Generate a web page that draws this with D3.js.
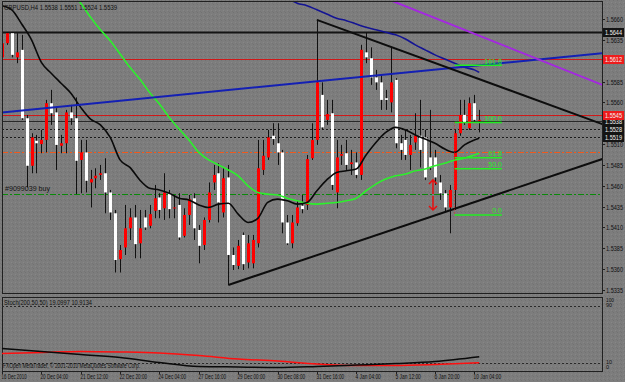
<!DOCTYPE html>
<html>
<head>
<meta charset="utf-8">
<script src="https://cdn.jsdelivr.net/npm/d3@7"></script>
<style>
  body { margin: 0; background: #7d7d7d; }
  svg text { font-family: "Liberation Sans", Arial, sans-serif; }
</style>
</head>
<body>
<svg id="chart" width="625" height="382"></svg>
<script>
// GBPUSD H4 bars, [open, high, low, close]
var candles = [
  [1.5614,1.5635,1.5599,1.5631],[1.5631,1.5644,1.5629,1.5643],[1.5643,1.5644,1.5614,1.5617],[1.5614,1.5643,1.5607,1.5620],
  [1.5623,1.5641,1.5539,1.5541],[1.5541,1.5545,1.5458,1.5484],[1.5484,1.5523,1.5475,1.5518],[1.5514,1.5521,1.5475,1.5511],
  [1.5510,1.5527,1.5499,1.5515],[1.5515,1.5563,1.5500,1.5559],[1.5559,1.5575,1.5533,1.5547],[1.5548,1.5553,1.5479,1.5509],
  [1.5508,1.5521,1.5499,1.5511],[1.5511,1.5551,1.5499,1.5548],[1.5548,1.5557,1.5533,1.5541],[1.5541,1.5566,1.5450,1.5490],
  [1.5491,1.5515,1.5451,1.5500],[1.5500,1.5515,1.5452,1.5466],[1.5464,1.5479,1.5434,1.5468],[1.5469,1.5481,1.5457,1.5472],
  [1.5473,1.5485,1.5467,1.5475],[1.5475,1.5493,1.5427,1.5452],[1.5452,1.5455,1.5419,1.5428],[1.5427,1.5431,1.5356,1.5371],
  [1.5372,1.5389,1.5356,1.5383],[1.5386,1.5437,1.5377,1.5409],[1.5409,1.5433,1.5395,1.5422],[1.5422,1.5437,1.5373,1.5390],
  [1.5391,1.5431,1.5373,1.5409],[1.5422,1.5431,1.5407,1.5410],[1.5412,1.5437,1.5409,1.5426],[1.5430,1.5461,1.5421,1.5445],
  [1.5446,1.5451,1.5421,1.5431],[1.5433,1.5475,1.5419,1.5452],[1.5451,1.5455,1.5421,1.5432],[1.5433,1.5449,1.5421,1.5434],
  [1.5437,1.5451,1.5395,1.5398],[1.5400,1.5433,1.5398,1.5425],[1.5425,1.5449,1.5413,1.5444],[1.5445,1.5451,1.5395,1.5409],
  [1.5407,1.5413,1.5367,1.5388],[1.5389,1.5422,1.5383,1.5419],[1.5419,1.5464,1.5416,1.5452],[1.5464,1.5485,1.5455,1.5473],
  [1.5475,1.5487,1.5416,1.5440],[1.5428,1.5481,1.5422,1.5469],[1.5470,1.5485,1.5341,1.5377],[1.5377,1.5386,1.5359,1.5365],
  [1.5364,1.5395,1.5360,1.5388],[1.5401,1.5404,1.5359,1.5366],[1.5368,1.5401,1.5361,1.5391],[1.5367,1.5401,1.5361,1.5395],
  [1.5391,1.5515,1.5386,1.5481],[1.5479,1.5515,1.5473,1.5496],[1.5494,1.5527,1.5491,1.5518],[1.5520,1.5535,1.5509,1.5516],
  [1.5511,1.5535,1.5485,1.5500],[1.5500,1.5503,1.5403,1.5416],[1.5416,1.5425,1.5389,1.5391],[1.5391,1.5425,1.5385,1.5416],
  [1.5415,1.5443,1.5412,1.5434],[1.5436,1.5449,1.5427,1.5432],[1.5437,1.5497,1.5431,1.5492],[1.5493,1.5535,1.5491,1.5515],
  [1.5515,1.5659,1.5509,1.5584],[1.5569,1.5584,1.5527,1.5530],[1.5539,1.5563,1.5533,1.5546],[1.5547,1.5563,1.5455,1.5461],
  [1.5452,1.5515,1.5433,1.5494],[1.5496,1.5509,1.5485,1.5498],[1.5499,1.5515,1.5479,1.5485],[1.5486,1.5503,1.5473,1.5488],
  [1.5488,1.5500,1.5469,1.5473],[1.5473,1.5629,1.5467,1.5623],[1.5620,1.5644,1.5607,1.5614],[1.5613,1.5626,1.5581,1.5590],
  [1.5590,1.5599,1.5575,1.5584],[1.5584,1.5593,1.5551,1.5563],[1.5565,1.5575,1.5551,1.5563],[1.5560,1.5626,1.5548,1.5584],
  [1.5587,1.5589,1.5505,1.5511],[1.5511,1.5521,1.5491,1.5503],[1.5515,1.5527,1.5491,1.5497],[1.5497,1.5521,1.5479,1.5509],
  [1.5512,1.5547,1.5503,1.5520],[1.5520,1.5563,1.5482,1.5503],[1.5518,1.5527,1.5467,1.5470],[1.5494,1.5551,1.5479,1.5482],
  [1.5494,1.5503,1.5461,1.5470],[1.5464,1.5473,1.5443,1.5451],[1.5451,1.5455,1.5428,1.5434],[1.5434,1.5461,1.5403,1.5455],
  [1.5455,1.5527,1.5431,1.5523],[1.5523,1.5563,1.5520,1.5545],[1.5545,1.5563,1.5533,1.5536],[1.5529,1.5566,1.5527,1.5559],
  [1.5559,1.5569,1.5536,1.5539],[1.5538,1.5551,1.5524,1.5539]
];

// moving averages, [bar, price]
var maBlack = [[0,1.5676],[2,1.5671],[4,1.5654],[6,1.5635],[8,1.5608],[10,1.5595],[12,1.5583],[14,1.5571],[16,1.5554],[18,1.5540],
  [20,1.5533],[22,1.5518],[24,1.5491],[26,1.5482],[28,1.5467],[30,1.5457],[32,1.5455],[34,1.5451],[36,1.5445],[38,1.5443],
  [40,1.5437],[42,1.5434],[44,1.5438],[46,1.5439],[48,1.5426],[50,1.5416],[52,1.5421],[54,1.5440],[56,1.5444],[58,1.5442],
  [60,1.5438],[62,1.5440],[64,1.5454],[66,1.5467],[68,1.5476],[70,1.5478],[72,1.5480],[74,1.5497],[76,1.5512],[78,1.5524],
  [80,1.5530],[82,1.5527],[84,1.5521],[86,1.5516],[88,1.5511],[90,1.5504],[92,1.5500],[94,1.5509],[96,1.5515],[97,1.5517]];
var maGreen = [[14,1.5692],[16,1.5679],[18,1.5662],[20,1.5647],[22,1.5634],[24,1.5618],[26,1.5602],[28,1.5588],[30,1.5572],
  [32,1.5558],[34,1.5542],[36,1.5528],[38,1.5515],[40,1.5500],[42,1.5491],[44,1.5485],[46,1.5479],[48,1.5472],[50,1.5460],
  [52,1.5452],[54,1.5450],[56,1.5449],[58,1.5445],[60,1.5442],[62,1.5439],[64,1.5438],[66,1.5439],[68,1.5440],[70,1.5442],
  [72,1.5445],[74,1.5454],[76,1.5462],[78,1.5468],[80,1.5472],[82,1.5474],[84,1.5478],[86,1.5480],[88,1.5484],[90,1.5487],
  [92,1.5491],[94,1.5493],[96,1.5497],[97,1.5499]];
var maBlue = [[58,1.5685],[60,1.5679],[62,1.5676],[64,1.5671],[66,1.5666],[68,1.5661],[70,1.5658],[72,1.5654],[74,1.5650],
  [76,1.5647],[78,1.5644],[80,1.5641],[82,1.5636],[84,1.5629],[86,1.5623],[88,1.5617],[90,1.5612],[92,1.5607],[94,1.5602],
  [96,1.5599],[97,1.5596]];

// trend lines, two anchors each [bar, price]
var trendBlue = [[0,1.5548],[122,1.5619]];
var trendPurple = [[80,1.5680],[122,1.5581]];
var trendDown = [[64,1.5659],[122,1.5534]];
var trendUp = [[46,1.5341],[122,1.5492]];

// horizontal levels
var levelBlackThick = 1.5644;
var levelRed = [1.5612, 1.5545];
var levelBid = 1.5538;
var levelDotted = [1.5528, 1.5519];
var levelOrange = 1.5500;
var levelBuy = 1.5450;
var tagsRed = [1.5612, 1.5545];
var tagsBlack = [1.5644, 1.5538, 1.5528, 1.5519];

// fibonacci
var fibHigh = 1.5536, fibLow = 1.5425;
var fibLevels = [0, 50, 61.8, 100, 161.8];
var fibLabels = ["0.0", "50.0", "61.8", "100.0", "161.8"];
var fibBars = [92, 101.6];

var priceTicks = [1.5660,1.5635,1.5610,1.5585,1.5560,1.5535,1.5510,1.5485,1.5460,1.5435,1.5410,1.5385,1.5360,1.5335];
var timeLabels = ["16 Dec 2010","20 Dec 04:00","21 Dec 12:00","22 Dec 20:00","24 Dec 04:00","27 Dec 16:00","29 Dec 00:00",
  "30 Dec 08:00","31 Dec 16:00","4 Jan 04:00","5 Jan 12:00","6 Jan 20:00","10 Jan 04:00"];
var timeLabelBars = [0,8,16,24,32,40,48,56,64,72,80,88,96];

// stochastic (main / signal), [bar, value]
var stochMain = [[0,30.6],[8,26.4],[16,22.2],[24,18.1],[32,11.1],[40,5.6],[48,4.9],[56,4.2],[64,5.6],[72,7.6],[80,9.7],[88,12.5],[97,19.1]];
var stochSignal = [[0,23.6],[8,25.0],[16,26.4],[24,25.7],[32,24.3],[40,20.8],[48,16.0],[56,13.2],[64,9.0],[72,6.9],[80,6.9],[88,8.3],[97,10.9]];
var stochLevels = [90, 10];
var stochTicks = [100, 90, 10, 0];

var svg = d3.select("#chart");
var W = 625, H = 382;
var pL = 2, pR = 602, pT = 2, pB = 293;
var subTop = 297, subBottom = 371;

var x = d3.scaleLinear().domain([0, 122]).range([2, 2 + 122 * 4.92]);
var y = d3.scaleLinear().domain([1.5335, 1.5660]).range([290, 19]);
var ys = d3.scaleLinear().domain([0, 100]).range([370.5, 298.5]);

var defs = svg.append("defs");
var pat = defs.append("pattern").attr("id", "grain").attr("width", 4).attr("height", 4).attr("patternUnits", "userSpaceOnUse");
pat.append("rect").attr("width", 4).attr("height", 4).attr("fill", "#7d7d7d");
pat.append("rect").attr("x", 1).attr("y", 0).attr("width", 1).attr("height", 1).attr("fill", "#727272");
pat.append("rect").attr("x", 3).attr("y", 2).attr("width", 1).attr("height", 1).attr("fill", "#878787");
pat.append("rect").attr("x", 0).attr("y", 3).attr("width", 1).attr("height", 1).attr("fill", "#757575");
defs.append("clipPath").attr("id", "mainClip").append("rect")
  .attr("x", pL).attr("y", pT).attr("width", pR - pL).attr("height", pB - pT);
defs.append("clipPath").attr("id", "subClip").append("rect")
  .attr("x", pL).attr("y", subTop).attr("width", pR - pL).attr("height", subBottom - subTop);

svg.append("rect").attr("width", W).attr("height", H).attr("fill", "url(#grain)");

var main = svg.append("g").attr("clip-path", "url(#mainClip)");

function hline(p, color, w, dash) {
  main.append("line").attr("x1", pL).attr("x2", pR)
    .attr("y1", Math.round(y(p)) + 0.5).attr("y2", Math.round(y(p)) + 0.5)
    .attr("stroke", color).attr("stroke-width", w).attr("stroke-dasharray", dash || null);
}
hline(levelOrange, "#f05a1e", 1, "6,2,2,2");
hline(levelBuy, "#0a8a0a", 1, "6,2,2,2");
levelDotted.forEach(function (p) { hline(p, "#1a1a1a", 1, "2,2"); });
hline(levelBid, "#2a2a2a", 1);
levelRed.forEach(function (p) { hline(p, "#d01818", 1); });
hline(levelBlackThick, "#141414", 2);

main.append("text").attr("x", 5).attr("y", y(levelBuy) - 3)
  .attr("font-size", 7.5).attr("fill", "#111").attr("textLength", 45).attr("lengthAdjust", "spacingAndGlyphs")
  .text("#9099039 buy");

// candles
var bars = main.append("g");
candles.forEach(function (d, i) {
  var cx = Math.round(x(i)) + 0.5;
  bars.append("line").attr("x1", cx).attr("x2", cx).attr("y1", y(d[1])).attr("y2", y(d[2]))
    .attr("stroke", "#111").attr("stroke-width", 1);
  var yo = y(d[0]), yc = y(d[3]);
  bars.append("rect").attr("x", cx - 1.5).attr("width", 3)
    .attr("y", Math.min(yo, yc)).attr("height", Math.max(1, Math.abs(yo - yc)))
    .attr("fill", d[3] >= d[0] ? "#ff0000" : "#ffffff");
});

// moving averages
var maLine = d3.line().x(function (d) { return x(d[0]); }).y(function (d) { return y(d[1]); }).curve(d3.curveMonotoneX);
main.append("path").attr("d", maLine(maGreen)).attr("fill", "none").attr("stroke", "#2cf02c").attr("stroke-width", 1.6);
main.append("path").attr("d", maLine(maBlue)).attr("fill", "none").attr("stroke", "#141494").attr("stroke-width", 1.6);
main.append("path").attr("d", maLine(maBlack)).attr("fill", "none").attr("stroke", "#0a0a0a").attr("stroke-width", 1.6);

// trend lines (rays to the right edge)
function ray(a, color, w, fromStart) {
  var slope = (a[1][1] - a[0][1]) / (a[1][0] - a[0][0]);
  var b0 = fromStart ? -2 : a[0][0], b1 = 124;
  main.append("line").attr("x1", x(b0)).attr("y1", y(a[0][1] + slope * (b0 - a[0][0])))
    .attr("x2", x(b1)).attr("y2", y(a[0][1] + slope * (b1 - a[0][0])))
    .attr("stroke", color).attr("stroke-width", w);
}
ray(trendBlue, "#1420b4", 2, true);
ray(trendPurple, "#a428e0", 2, true);
ray(trendDown, "#0d0d0d", 2, false);
ray(trendUp, "#0d0d0d", 2, false);

// fibonacci
var fibY = function (lv) { return y(fibLow + (fibHigh - fibLow) * lv / 100); };
main.append("line").attr("x1", x(fibBars[0])).attr("x2", x(fibBars[0]))
  .attr("y1", y(fibHigh)).attr("y2", y(fibLow))
  .attr("stroke", "#e02020").attr("stroke-width", 1).attr("stroke-dasharray", "1,2");
fibLevels.forEach(function (lv, k) {
  main.append("line").attr("x1", x(fibBars[0])).attr("x2", x(fibBars[1]))
    .attr("y1", fibY(lv)).attr("y2", fibY(lv))
    .attr("stroke", "#22ee22").attr("stroke-width", 1.5);
  main.append("text").attr("x", x(fibBars[1])).attr("y", fibY(lv) - 1.5)
    .attr("text-anchor", "end").attr("font-size", 7).attr("fill", "#22ee22")
    .text(fibLabels[k]);
});

// signal arrows
var arrowBar = 87.6;
var upTip = 1.5467, downTip = 1.5431;
function arrow(bar, tip, dir) {
  var ax = x(bar), ay = y(tip), s = dir === "up" ? 1 : -1;
  main.append("path")
    .attr("d", "M" + ax + "," + (ay + s * 14) + "V" + ay + "M" + (ax - 4) + "," + (ay + s * 4) + "L" + ax + "," + ay + "L" + (ax + 4) + "," + (ay + s * 4))
    .attr("fill", "none").attr("stroke", "#e81010").attr("stroke-width", 1.5);
}
arrow(arrowBar, upTip, "up");
arrow(arrowBar, downTip, "down");

// title
svg.append("text").attr("x", 4).attr("y", 10).attr("font-size", 7.5).attr("fill", "#111")
  .attr("textLength", 113).attr("lengthAdjust", "spacingAndGlyphs")
  .text("GBPUSD,H4  1.5538 1.5551 1.5524 1.5539");

// frames
svg.append("rect").attr("x", pL + 0.5).attr("y", pT - 0.5).attr("width", pR - pL).attr("height", pB - pT + 1)
  .attr("fill", "none").attr("stroke", "#202020");
svg.append("rect").attr("x", pL + 0.5).attr("y", subTop + 0.5).attr("width", pR - pL).attr("height", subBottom - subTop)
  .attr("fill", "none").attr("stroke", "#202020");

// price axis
priceTicks.forEach(function (p) {
  var py = Math.round(y(p)) + 0.5;
  svg.append("line").attr("x1", pR).attr("x2", pR + 3).attr("y1", py).attr("y2", py).attr("stroke", "#202020");
  svg.append("text").attr("x", pR + 4).attr("y", py + 2.5).attr("font-size", 7).attr("fill", "#111")
    .attr("textLength", 17).attr("lengthAdjust", "spacingAndGlyphs").text(p.toFixed(4));
});
function tag(p, bg) {
  var py = Math.round(y(p));
  svg.append("rect").attr("x", pR + 1).attr("y", py - 4).attr("width", 21).attr("height", 9).attr("fill", bg);
  svg.append("text").attr("x", pR + 3).attr("y", py + 3).attr("font-size", 7).attr("fill", "#f2f2f2")
    .attr("textLength", 17).attr("lengthAdjust", "spacingAndGlyphs").text(p.toFixed(4));
}
tagsBlack.forEach(function (p) { tag(p, "#141414"); });
tagsRed.forEach(function (p) { tag(p, "#ee1c1c"); });

// stochastic sub window
var sw = svg.append("g").attr("clip-path", "url(#subClip)");
stochLevels.forEach(function (v) {
  sw.append("line").attr("x1", pL).attr("x2", pR).attr("y1", Math.round(ys(v)) + 0.5).attr("y2", Math.round(ys(v)) + 0.5)
    .attr("stroke", "#2a2a2a").attr("stroke-dasharray", "2,2");
});
var stLine = d3.line().x(function (d) { return x(d[0]); }).y(function (d) { return ys(d[1]); }).curve(d3.curveMonotoneX);
sw.append("path").attr("d", stLine(stochSignal)).attr("fill", "none").attr("stroke", "#ff1010").attr("stroke-width", 1.5);
sw.append("path").attr("d", stLine(stochMain)).attr("fill", "none").attr("stroke", "#0a0a0a").attr("stroke-width", 1.5);
svg.append("text").attr("x", 4).attr("y", 305).attr("font-size", 7.5).attr("fill", "#111")
  .attr("textLength", 88).attr("lengthAdjust", "spacingAndGlyphs").text("Stoch(200,50,50) 19.0997 10.9134");
svg.append("text").attr("x", 3).attr("y", 368).attr("font-size", 7.5).attr("fill", "#111")
  .attr("textLength", 137).attr("lengthAdjust", "spacingAndGlyphs").text("FXOpen MetaTrader, \u00a9 2001-2010 MetaQuotes Software Corp.");
var stochTickY = [302, 306.5, 363.5, 368.5];
stochTicks.forEach(function (v, k) {
  svg.append("text").attr("x", pR + 4).attr("y", stochTickY[k]).attr("font-size", 6).attr("fill", "#111")
    .attr("textLength", v === 100 ? 8 : v === 0 ? 3 : 6).attr("lengthAdjust", "spacingAndGlyphs").text(v);
});

// time axis
timeLabels.forEach(function (t, k) {
  var tx = Math.round(x(timeLabelBars[k])) + 0.5;
  svg.append("line").attr("x1", tx).attr("x2", tx).attr("y1", subBottom).attr("y2", subBottom + 3).attr("stroke", "#202020");
  svg.append("text").attr("x", tx - 1).attr("y", 379).attr("font-size", 7.5).attr("fill", "#111")
    .attr("textLength", t.length * 2.3).attr("lengthAdjust", "spacingAndGlyphs").text(t);
});
</script>
</body>
</html>
